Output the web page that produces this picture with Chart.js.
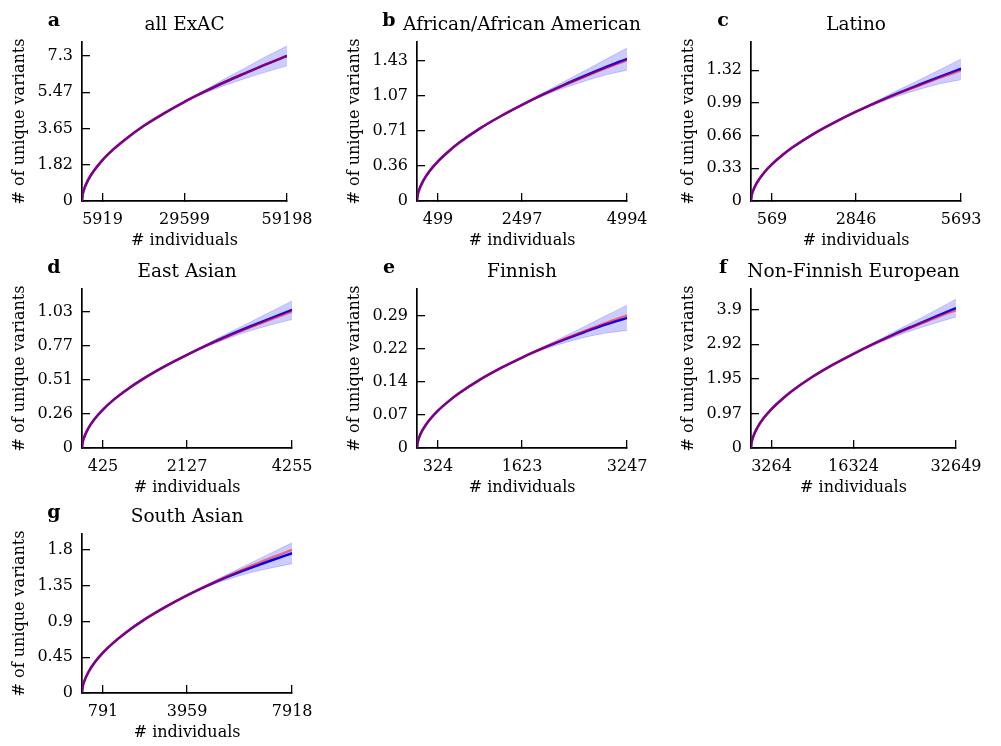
<!DOCTYPE html>
<html>
<head>
<meta charset="utf-8">
<script src="https://cdn.jsdelivr.net/npm/chart.js@4.4.1/dist/chart.umd.min.js"></script>
<style>
  html, body { margin: 0; padding: 0; background: #fff; overflow: hidden; }
  #wrap { position: relative; width: 1001px; height: 746px; background: #fff; }
  canvas { position: absolute; }
</style>
</head>
<body>
<div id="wrap"></div>
<script>
// ---- panel labels ----
const panelLetters = ['a', 'b', 'c', 'd', 'e', 'f', 'g'];
const panelTitles = ['all ExAC', 'African/African American', 'Latino', 'East Asian',
                     'Finnish', 'Non-Finnish European', 'South Asian'];

// ---- tick labels ----
const xTickLabels = [
  ['5919', '29599', '59198'],
  ['499', '2497', '4994'],
  ['569', '2846', '5693'],
  ['425', '2127', '4255'],
  ['324', '1623', '3247'],
  ['3264', '16324', '32649'],
  ['791', '3959', '7918']
];
const yTickLabels = [
  ['0', '1.82', '3.65', '5.47', '7.3'],
  ['0', '0.36', '0.71', '1.07', '1.43'],
  ['0', '0.33', '0.66', '0.99', '1.32'],
  ['0', '0.26', '0.51', '0.77', '1.03'],
  ['0', '0.07', '0.14', '0.22', '0.29'],
  ['0', '0.97', '1.95', '2.92', '3.9'],
  ['0', '0.45', '0.9', '1.35', '1.8']
];
// value of the highest y tick and the top of each y axis
const yTopTick = [7.3, 1.428, 1.32, 1.027, 0.288, 3.898, 1.8];
const yAxisMax = [8.0, 1.616, 1.606, 1.2, 0.3457, 4.483, 2.0];

// ---- series: number of individuals sampled ----
const allIndividuals = [0, 178, 592, 1776, 3552, 5920, 8880, 11840, 17759, 23679, 29599, 35519, 41439, 47358, 53278, 59198];
const afrIndividuals = [0, 15, 50, 150, 300, 499, 749, 999, 1498, 1998, 2497, 2996, 3496, 3995, 4495, 4994];
const latIndividuals = [0, 17, 57, 171, 342, 569, 854, 1139, 1708, 2277, 2846, 3416, 3985, 4554, 5124, 5693];
const easIndividuals = [0, 13, 43, 128, 255, 425, 638, 851, 1277, 1702, 2127, 2553, 2979, 3404, 3830, 4255];
const finIndividuals = [0, 10, 32, 97, 195, 324, 487, 649, 974, 1299, 1623, 1948, 2273, 2598, 2922, 3247];
const nfeIndividuals = [0, 98, 326, 979, 1959, 3264, 4897, 6530, 9795, 13060, 16324, 19589, 22854, 26119, 29384, 32649];
const sasIndividuals = [0, 24, 79, 238, 475, 791, 1188, 1584, 2375, 3167, 3959, 4751, 5543, 6334, 7126, 7918];

// ---- series: observed unique variants (red) ----
const allObserved = [0, 0.30, 0.58, 1.06, 1.55, 2.06, 2.57, 3.01, 3.77, 4.41, 4.99, 5.51, 6.00, 6.45, 6.89, 7.30];
const afrObserved = [0, 0.059, 0.113, 0.207, 0.305, 0.403, 0.503, 0.591, 0.738, 0.864, 0.977, 1.080, 1.175, 1.264, 1.350, 1.430];
const latObserved = [0, 0.054, 0.104, 0.191, 0.281, 0.372, 0.465, 0.545, 0.681, 0.797, 0.902, 0.997, 1.085, 1.167, 1.246, 1.320];
const easObserved = [0, 0.042, 0.081, 0.149, 0.219, 0.290, 0.363, 0.425, 0.531, 0.622, 0.703, 0.778, 0.847, 0.911, 0.972, 1.030];
const finObserved = [0, 0.0118, 0.0228, 0.0418, 0.0613, 0.0812, 0.1014, 0.1189, 0.1486, 0.1740, 0.1967, 0.2174, 0.2367, 0.2546, 0.2719, 0.2880];
const nfeObserved = [0, 0.159, 0.307, 0.564, 0.829, 1.097, 1.369, 1.607, 2.007, 2.350, 2.657, 2.937, 3.198, 3.439, 3.672, 3.890];
const sasObserved = [0, 0.074, 0.142, 0.261, 0.383, 0.508, 0.634, 0.743, 0.929, 1.087, 1.229, 1.359, 1.480, 1.591, 1.699, 1.800];

// ---- series: projected unique variants (blue) ----
const allProjected = [0, 0.30, 0.58, 1.06, 1.55, 2.06, 2.57, 3.01, 3.77, 4.41, 4.99, 5.51, 6.00, 6.45, 6.89, 7.30];
const afrProjected = [0, 0.059, 0.113, 0.207, 0.305, 0.403, 0.503, 0.591, 0.738, 0.864, 0.977, 1.083, 1.181, 1.273, 1.362, 1.445];
const latProjected = [0, 0.054, 0.104, 0.191, 0.281, 0.372, 0.465, 0.545, 0.681, 0.797, 0.902, 0.999, 1.090, 1.174, 1.256, 1.336];
const easProjected = [0, 0.042, 0.081, 0.149, 0.219, 0.290, 0.363, 0.425, 0.531, 0.622, 0.703, 0.780, 0.851, 0.917, 0.980, 1.042];
const finProjected = [0, 0.0118, 0.0228, 0.0418, 0.0613, 0.0812, 0.1014, 0.1189, 0.1486, 0.1740, 0.1967, 0.2170, 0.2355, 0.2528, 0.2690, 0.2830];
const nfeProjected = [0, 0.159, 0.307, 0.564, 0.829, 1.097, 1.369, 1.607, 2.007, 2.350, 2.657, 2.943, 3.212, 3.460, 3.704, 3.945];
const sasProjected = [0, 0.074, 0.142, 0.261, 0.383, 0.508, 0.634, 0.743, 0.929, 1.087, 1.229, 1.355, 1.470, 1.572, 1.667, 1.758];

// ---- series: projection interval (blue band), from half the sample upward ----
const allBandLow  = [4.99, 5.43, 5.83, 6.18, 6.50, 6.80];
const allBandHigh = [4.99, 5.59, 6.17, 6.72, 7.28, 7.80];
const afrBandLow  = [0.977, 1.067, 1.148, 1.220, 1.282, 1.330];
const afrBandHigh = [0.977, 1.099, 1.214, 1.326, 1.442, 1.555];
const latBandLow  = [0.902, 0.985, 1.060, 1.126, 1.184, 1.225];
const latBandHigh = [0.902, 1.013, 1.120, 1.222, 1.328, 1.435];
const easBandLow  = [0.703, 0.770, 0.831, 0.884, 0.930, 0.970];
const easBandHigh = [0.703, 0.790, 0.871, 0.950, 1.030, 1.110];
const finBandLow  = [0.1967, 0.2140, 0.2285, 0.2408, 0.2500, 0.2555];
const finBandHigh = [0.1967, 0.2200, 0.2425, 0.2648, 0.2880, 0.3105];
const nfeBandLow  = [2.657, 2.908, 3.137, 3.340, 3.524, 3.695];
const nfeBandHigh = [2.657, 2.978, 3.287, 3.580, 3.884, 4.195];
const sasBandLow  = [1.229, 1.341, 1.435, 1.512, 1.572, 1.627];
const sasBandHigh = [1.229, 1.369, 1.505, 1.632, 1.762, 1.889];

// ---- assemble per-panel tables for the library ----
const individuals = [allIndividuals, afrIndividuals, latIndividuals, easIndividuals, finIndividuals, nfeIndividuals, sasIndividuals];
const observed = [allObserved, afrObserved, latObserved, easObserved, finObserved, nfeObserved, sasObserved];
const projected = [allProjected, afrProjected, latProjected, easProjected, finProjected, nfeProjected, sasProjected];
const bandLow = [allBandLow, afrBandLow, latBandLow, easBandLow, finBandLow, nfeBandLow, sasBandLow];
const bandHigh = [allBandHigh, afrBandHigh, latBandHigh, easBandHigh, finBandHigh, nfeBandHigh, sasBandHigh];

// ---- layout of the 3x3 grid ----
const FONT = 'DejaVu Serif';
const colAxisX = [82, 417, 751];
const rowAxisTop = [42, 289, 534];
const PLOT_W = 223, PLOT_H = 159;
const Y_BOX = 82, TOP_BOX = 42, CANVAS_W = 330, CANVAS_H = 250;

const toPoints = (xs, ys) => ys.map((y, i) => ({ x: xs[i], y }));

// panel letter at the top-left and the title centred over the plot area
// (drawn without a width limit so long titles may run past the axes)
const panelHeaderPlugin = {
  id: 'panelHeader',
  afterDraw(chart, args, opts) {
    const { ctx, chartArea } = chart;
    ctx.save();
    ctx.fillStyle = '#000';
    ctx.textBaseline = 'alphabetic';
    ctx.textAlign = 'center';
    ctx.font = 'bold 19px "' + FONT + '"';
    ctx.fillText(opts.letter, chartArea.left - 28, chartArea.top - 16);
    ctx.font = '18.5px "' + FONT + '"';
    ctx.textBaseline = 'middle';
    ctx.fillText(opts.title, (chartArea.left + chartArea.right) / 2, chartArea.top - 16.5);
    ctx.restore();
  }
};

const wrap = document.getElementById('wrap');

panelTitles.forEach((title, i) => {
  const col = i % 3, row = Math.floor(i / 3);
  const canvas = document.createElement('canvas');
  canvas.width = CANVAS_W;
  canvas.height = CANVAS_H;
  canvas.style.left = (colAxisX[col] - Y_BOX) + 'px';
  canvas.style.top = (rowAxisTop[row] - TOP_BOX) + 'px';
  canvas.style.width = CANVAS_W + 'px';
  canvas.style.height = CANVAS_H + 'px';
  wrap.appendChild(canvas);

  const xs = individuals[i];
  const bandXs = xs.slice(xs.length - bandLow[i].length);
  const xTicks = xTickLabels[i].map(Number);
  const yTicks = [0, 0.25, 0.5, 0.75, 1].map(q => q * yTopTick[i]);
  const N = xs[xs.length - 1];

  new Chart(canvas, {
    type: 'line',
    data: {
      datasets: [
        {
          label: 'observed',
          data: toPoints(xs, observed[i]),
          borderColor: 'rgba(255,0,0,0.5)',
          borderWidth: 2.5,
          pointRadius: 0,
          cubicInterpolationMode: 'monotone',
          fill: false,
          order: 0
        },
        {
          label: 'projected',
          data: toPoints(xs, projected[i]),
          borderColor: 'rgb(0,0,255)',
          borderWidth: 2.5,
          pointRadius: 0,
          cubicInterpolationMode: 'monotone',
          fill: false,
          order: 1
        },
        {
          label: 'interval low',
          data: toPoints(bandXs, bandLow[i]),
          borderColor: 'rgba(0,0,255,0.18)',
          borderWidth: 1,
          pointRadius: 0,
          cubicInterpolationMode: 'monotone',
          fill: false,
          order: 2
        },
        {
          label: 'interval high',
          data: toPoints(bandXs, bandHigh[i]),
          borderColor: 'rgba(0,0,255,0.18)',
          backgroundColor: 'rgba(0,0,255,0.2)',
          borderWidth: 1,
          pointRadius: 0,
          cubicInterpolationMode: 'monotone',
          fill: '-1',
          order: 3
        }
      ]
    },
    options: {
      responsive: false,
      animation: false,
      devicePixelRatio: 1,
      events: [],
      layout: { padding: { left: 0, top: TOP_BOX, right: CANVAS_W - Y_BOX - PLOT_W, bottom: 0 } },
      plugins: {
        legend: { display: false },
        tooltip: { enabled: false },
        title: { display: false },
        panelHeader: { letter: panelLetters[i], title: title }
      },
      scales: {
        x: {
          type: 'linear',
          min: 0,
          max: N,
          afterFit(scale) { scale.height = CANVAS_H - TOP_BOX - PLOT_H; },
          afterBuildTicks(scale) { scale.ticks = xTicks.map(v => ({ value: v })); },
          ticks: {
            autoSkip: false,
            maxRotation: 0,
            padding: 17.5,
            color: '#000',
            font: { family: FONT, size: 16 },
            callback: (v, idx) => xTickLabels[i][idx]
          },
          grid: { display: true, drawOnChartArea: false, drawTicks: true, tickLength: -8, color: '#000', lineWidth: 1.3 },
          border: { display: true, color: '#000', width: 1.7 },
          title: { display: true, text: '# individuals', color: '#000', font: { family: FONT, size: 16 }, padding: 0 }
        },
        y: {
          type: 'linear',
          min: 0,
          max: yAxisMax[i],
          afterFit(scale) { scale.width = Y_BOX; },
          afterBuildTicks(scale) { scale.ticks = yTicks.map(v => ({ value: v })); },
          ticks: {
            autoSkip: false,
            padding: 17,
            color: '#000',
            font: { family: FONT, size: 16 },
            callback: (v, idx) => yTickLabels[i][idx]
          },
          grid: { display: true, drawOnChartArea: false, drawTicks: true, tickLength: -8, color: '#000', lineWidth: 1.3 },
          border: { display: true, color: '#000', width: 1.7 },
          title: { display: true, text: '# of unique variants', color: '#000', font: { family: FONT, size: 16 }, padding: { top: 10, bottom: 0 } }
        }
      }
    },
    plugins: [panelHeaderPlugin]
  });
});
</script>
</body>
</html>
